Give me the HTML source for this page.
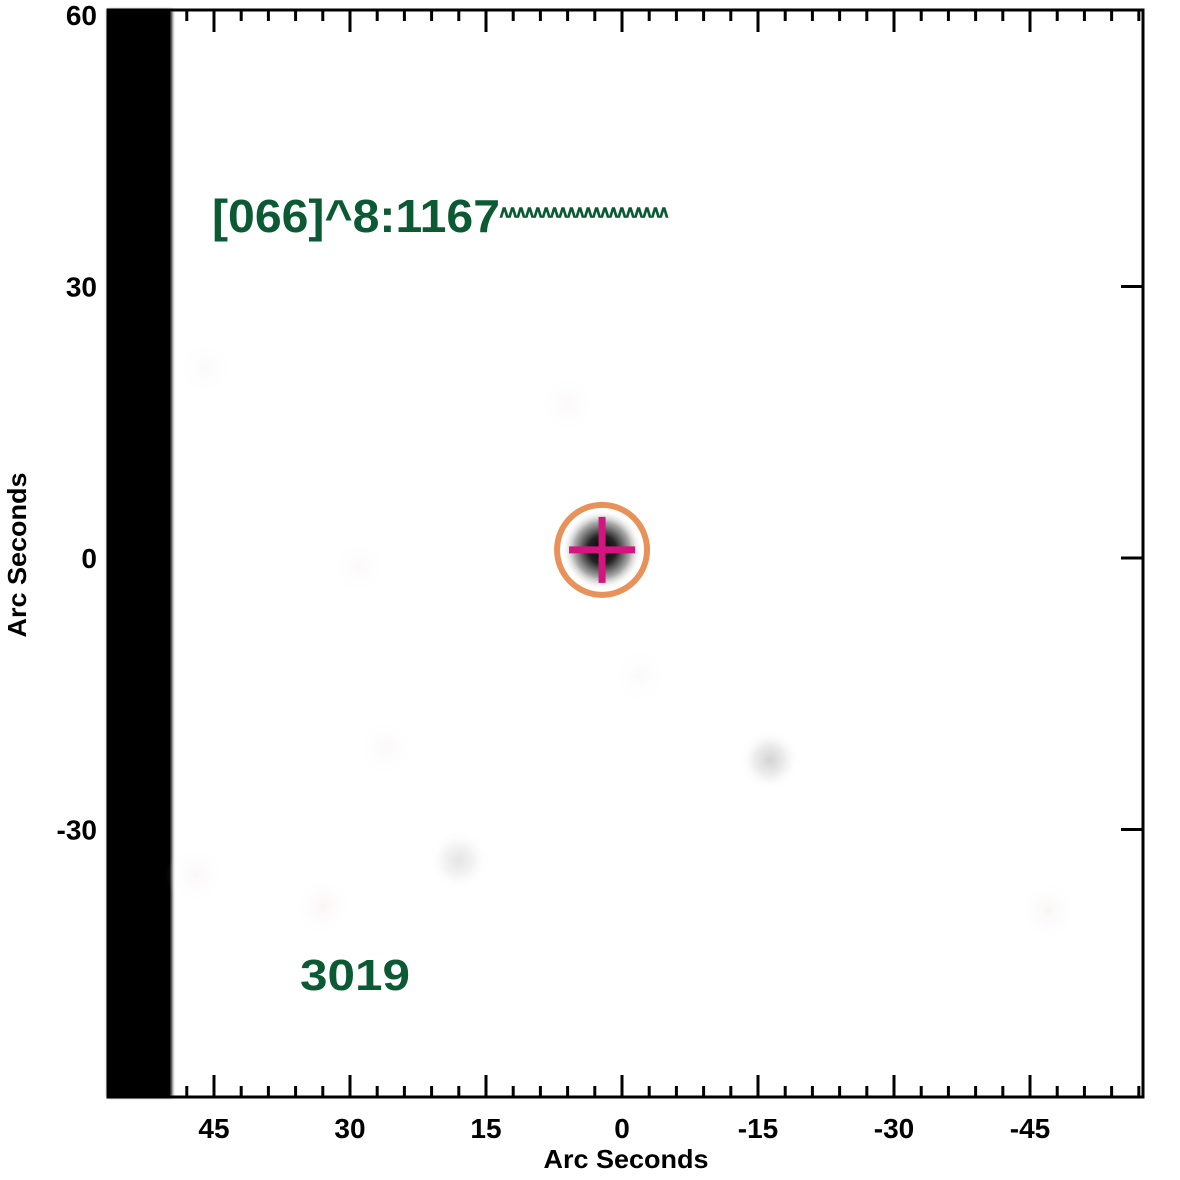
<!DOCTYPE html>
<html><head><meta charset="utf-8"><style>
html,body{margin:0;padding:0;background:#fff;width:1180px;height:1180px;overflow:hidden}
text{font-family:"Liberation Sans",sans-serif;font-weight:bold}
</style></head><body>
<svg id="chart" width="1180" height="1180" viewBox="0 0 1180 1180" xmlns="http://www.w3.org/2000/svg">
<defs>
<radialGradient id="src"><stop offset="0" stop-color="#000"/><stop offset="0.35" stop-color="#222"/><stop offset="0.7" stop-color="#aaa"/><stop offset="1" stop-color="#fff" stop-opacity="0"/></radialGradient>
<radialGradient id="faint"><stop offset="0" stop-color="#d4d4d4"/><stop offset="0.5" stop-color="#ececec"/><stop offset="1" stop-color="#fff" stop-opacity="0"/></radialGradient>
<radialGradient id="faint2"><stop offset="0" stop-color="#f3eaea"/><stop offset="1" stop-color="#fff" stop-opacity="0"/></radialGradient>
<filter id="blur"><feGaussianBlur stdDeviation="1.5"/></filter>
</defs>
<rect x="108" y="10" width="64" height="1087" fill="#000" filter="url(#blur)"/>
<rect x="108" y="10" width="62" height="1087" fill="#000"/>
<g id="blobs"></g>
<g id="marks"></g>
<g id="axes"></g>
<text x="212" y="232" font-size="46" fill="#0b5a33" textLength="288" lengthAdjust="spacingAndGlyphs">[066]^8:1167</text>
<text x="500" y="222" font-size="20" fill="#0b5a33" stroke="#0b5a33" stroke-width="1.5" textLength="168" lengthAdjust="spacingAndGlyphs">^^^^^^^^^^^^^^^^^^^^</text>
<text x="300" y="990" font-size="44" fill="#0b5a33" textLength="110" lengthAdjust="spacingAndGlyphs">3019</text>
<text x="626" y="1168" font-size="26" text-anchor="middle" fill="#000" textLength="165" lengthAdjust="spacingAndGlyphs">Arc Seconds</text>
<text transform="translate(26,555) rotate(-90)" font-size="26" text-anchor="middle" fill="#000" textLength="165" lengthAdjust="spacingAndGlyphs">Arc Seconds</text>
</svg>
<script>
const xTicks=[45,30,15,0,-15,-30,-45];
const yTicks=[60,30,0,-30];
const srcX=[2.2];const srcY=[0.9];
const faintX=[-16.3,18,33,-47,47,26,6,29,-2,46];
const faintY=[-22.3,-33.4,-38.5,-39,-35,-21,17,-1,-13,21];
const faintS=[1,0.5,0.4,0.4,0.3,0.25,0.25,0.2,0.2,0.2];
const L=108,R=1143,T=10,B=1097;
const sx=v=>622-v*9.067;
const sy=v=>558-v*9.05;
const NS='http://www.w3.org/2000/svg';
function mk(tag,attrs,parent){const e=document.createElementNS(NS,tag);for(const k in attrs)e.setAttribute(k,attrs[k]);parent.appendChild(e);return e;}
const blobs=document.getElementById('blobs'),marks=document.getElementById('marks'),axes=document.getElementById('axes');
faintX.forEach((v,i)=>{
 const c=mk('circle',{cx:sx(v),cy:sy(faintY[i]),r:30,fill:faintS[i]>0.45?'url(#faint)':'url(#faint2)','fill-opacity':Math.min(1,faintS[i]*1.2)},blobs);
 
 
});
srcX.forEach((v,i)=>{
 const cx=sx(v),cy=sy(srcY[i]);
 const b=mk('circle',{cx:cx,cy:cy,r:40,fill:'url(#src)'},marks);
 
 
 const ring=mk('circle',{cx:cx,cy:cy,r:45,fill:'none',stroke:'#e8925a','stroke-width':6},marks);
 
 
 const h=mk('line',{x1:cx-33,y1:cy,x2:cx+33,y2:cy,stroke:'#d4157f','stroke-width':7},marks);
 
 
 const vl=mk('line',{x1:cx,y1:cy-33,x2:cx,y2:cy+33,stroke:'#d4157f','stroke-width':7},marks);
 
 
});
const fr=mk('rect',{x:L,y:T,width:R-L,height:B-T,fill:'none',stroke:'#000','stroke-width':3},axes);


for(let v=57;v>=-57;v-=3){
 const x=sx(v);if(x<L+2||x>R-2)continue;
 const len=(v%15===0)?22:11;
 const t1=mk('line',{x1:x,y1:T,x2:x,y2:T+len,stroke:'#000','stroke-width':3},axes);
 
 
 const t2=mk('line',{x1:x,y1:B,x2:x,y2:B-len,stroke:'#000','stroke-width':3},axes);
 
 
}
yTicks.forEach(v=>{
 const y=sy(v);
 if(v<60){
 const t=mk('line',{x1:R,y1:y,x2:R-22,y2:y,stroke:'#000','stroke-width':3},axes);
 
 }
 const lb=mk('text',{x:97,y:y+10,'font-size':28,'text-anchor':'end',fill:'#000'},axes);
 lb.textContent=String(v);
 
 
});
xTicks.forEach(v=>{
 const lb=mk('text',{x:sx(v),y:1138,'font-size':28,'text-anchor':'middle',fill:'#000'},axes);
 lb.textContent=String(v);
 
 
});
</script>
</body></html>
